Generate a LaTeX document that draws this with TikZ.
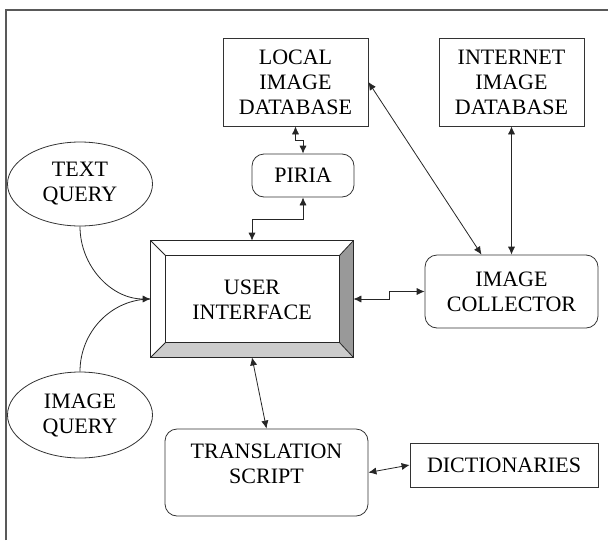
\documentclass[tikz,border=0pt]{standalone}
\usepackage{fontspec}
\setmainfont{Liberation Serif}
\usepackage{tikz}
\usetikzlibrary{positioning,shapes,arrows,arrows.meta,calc}

\tikzset{
  sqbox/.style={draw=black!80, thin, align=center, inner sep=0pt},
  rndbox/.style={draw=black!80, thin, rounded corners=6pt, align=center, inner sep=0pt},
  qry/.style={draw=black!80, thin, ellipse, align=center, inner sep=0pt},
  link/.style={draw=black!85, thin, >={Latex[length=4pt,width=3.6pt]}}
}

\begin{document}
\begin{tikzpicture}[x=0.5pt,y=-0.5pt,font=\fontsize{11}{12.5}\selectfont]
      \useasboundingbox (0,0) rectangle (608,540);
      % frame
      \draw[black!65, line width=1pt] (6,540) -- (6,10) -- (608,10);
      % boxes
      \node[sqbox, minimum width=72.5pt, minimum height=44pt] (local) at (295.5,82) {LOCAL\\IMAGE\\DATABASE};
      \node[sqbox, minimum width=72.5pt, minimum height=44pt] (inet) at (511.5,82) {INTERNET\\IMAGE\\DATABASE};
      \node[rndbox, minimum width=51pt, minimum height=21.5pt] (piria) at (303,175.5) {PIRIA};
      \node[rndbox, minimum width=86.5pt, minimum height=36.5pt] (coll) at (511.5,291.5) {IMAGE\\COLLECTOR};
      \node[rndbox, minimum width=101.5pt, minimum height=43.5pt] (trans) at (266.5,472.5) {};
      \node[align=center, inner sep=0pt] (transtext) at (266.5,464) {TRANSLATION\\SCRIPT};
      \node[sqbox, minimum width=94pt, minimum height=22pt] (dict) at (504,465) {DICTIONARIES};
      \node[qry, minimum width=72.5pt, minimum height=42pt] (tq) at (80,184) {TEXT\\QUERY};
      \node[qry, minimum width=72.5pt, minimum height=43pt] (iq) at (80,415) {IMAGE\\QUERY};
      % bevelled user interface
      \node[minimum width=101pt, minimum height=58pt, inner sep=0pt] (ui) at (252,299) {};
      \coordinate (inw) at ([shift={(15,15)}]ui.north west);
      \coordinate (ine) at ([shift={(-14,15)}]ui.north east);
      \coordinate (ise) at ([shift={(-14,-15)}]ui.south east);
      \coordinate (isw) at ([shift={(15,-15)}]ui.south west);
      \fill[black!40] (ui.north east) -- (ui.south east) -- (ise) -- (ine) -- cycle;
      \fill[black!20] (ui.south west) -- (ui.south east) -- (ise) -- (isw) -- cycle;
      \draw[black!85, thin] (ui.north west) rectangle (ui.south east);
      \draw[black!85, thin] (inw) rectangle (ise);
      \draw[black!85, thin] (ui.north west) -- (inw) (ui.north east) -- (ine)
        (ui.south east) -- (ise) (ui.south west) -- (isw);
      \node[align=center, inner sep=0pt] (uitext) at (252,300) {USER\\INTERFACE};
      % connectors
      \draw[link,<->] (local.south) -- ++(0,14) -| (piria.north);
      \draw[link,<->] (piria.south) -- ++(0,22) -| (ui.north);
      \draw[link,<->] (ui.east) -- ++(36,0) |- (coll.west);
      \draw[link,<->] (local.east) -- ([xshift=-15pt]coll.north);
      \draw[link,<->] (inet.south) -- (coll.north);
      \draw[link,<->] (ui.south) -- (trans.north);
      \draw[link,<->] (trans.east) -- (dict.west);
      \draw[link,->] (tq.south) to[out=-90,in=180] (ui.west);
      \draw[link] (iq.north) to[out=90,in=180] (ui.west);
    \end{tikzpicture}
\end{document}
